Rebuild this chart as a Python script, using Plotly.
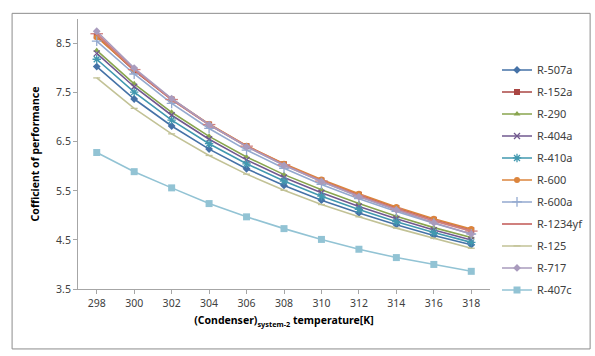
import plotly.graph_objects as go

temps = [298, 300, 302, 304, 306, 308, 310, 312, 314, 316, 318]

r507a = [8.03, 7.37, 6.82, 6.35, 5.95, 5.61, 5.31, 5.05, 4.81, 4.59, 4.40]
r152a = [8.65, 7.95, 7.36, 6.85, 6.41, 6.04, 5.71, 5.42, 5.15, 4.91, 4.70]
r290 = [8.36, 7.68, 7.10, 6.61, 6.19, 5.83, 5.52, 5.24, 4.98, 4.75, 4.55]
r404a = [8.30, 7.62, 7.04, 6.55, 6.13, 5.77, 5.46, 5.18, 4.93, 4.70, 4.50]
r410a = [8.18, 7.51, 6.94, 6.46, 6.05, 5.70, 5.39, 5.12, 4.87, 4.65, 4.45]
r600 = [8.63, 7.97, 7.37, 6.86, 6.42, 6.05, 5.73, 5.44, 5.17, 4.93, 4.72]
r600a = [8.55, 7.88, 7.28, 6.77, 6.33, 5.96, 5.63, 5.34, 5.08, 4.84, 4.62]
r1234yf = [8.70, 7.97, 7.36, 6.85, 6.41, 6.03, 5.70, 5.40, 5.13, 4.89, 4.68]
r125 = [7.80, 7.18, 6.66, 6.22, 5.84, 5.51, 5.22, 4.97, 4.74, 4.53, 4.33]
r717 = [8.75, 8.00, 7.38, 6.85, 6.40, 6.02, 5.69, 5.38, 5.11, 4.85, 4.62]
r407c = [6.28, 5.89, 5.56, 5.24, 4.97, 4.73, 4.51, 4.31, 4.14, 4.00, 3.86]

series = [
    ("R-507a", r507a, "#4572A7", "diamond", 6),
    ("R-152a", r152a, "#AA4643", "square", 6),
    ("R-290", r290, "#89A54E", "triangle-up", 6),
    ("R-404a", r404a, "#71588F", "x-thin", 6),
    ("R-410a", r410a, "#4198AF", "asterisk", 7),
    ("R-600", r600, "#DB843D", "circle", 6),
    ("R-600a", r600a, "#93A9CF", "cross-thin", 7),
    ("R-1234yf", r1234yf, "#D0807E", "line-ew", 9),
    ("R-125", r125, "#C2C296", "line-ew", 5),
    ("R-717", r717, "#A99BBD", "diamond", 6),
    ("R-407c", r407c, "#92C3D4", "square", 7),
]

fig = go.Figure()
for i, (name, vals, col, sym, sz) in enumerate(series):
    thin = sym in ("x-thin", "cross-thin", "asterisk", "line-ew")
    fig.add_trace(go.Scatter(
        x=temps, y=vals, name=name, mode="lines+markers",
        legendgroup=name,
        line=dict(color=col, width=1.6 if name != "R-1234yf" else 2),
        marker=dict(symbol=sym, size=sz, color=col,
                    line=dict(color=col, width=1.3 if thin else 0)),
    ))

font = "Noto Sans"
fig.update_layout(
    width=595, height=356,
    margin=dict(l=78, r=105, t=19, b=67, autoexpand=False),
    paper_bgcolor="white", plot_bgcolor="white",
    font=dict(family=font, size=10, color="#404040"),
    showlegend=True,
    legend=dict(x=1.017, y=0.865, xanchor="left", yanchor="top",
                font=dict(size=11, color="#404040"),
                tracegroupgap=3, traceorder="grouped",
                bgcolor="rgba(0,0,0,0)"),
    xaxis=dict(range=[297, 319], tickvals=temps, ticktext=[str(t) for t in temps],
               showgrid=False, zeroline=False, showline=True, linecolor="#A6A6A6",
               ticks="outside", ticklen=4, tickcolor="#A6A6A6",
               tickfont=dict(size=10.5, color="#404040"),
               title=dict(text="<b>(Condenser)<sub>system-2</sub> temperature[K]</b>",
                          font=dict(size=10.5, color="#000000"), standoff=8)),
    yaxis=dict(range=[3.5, 9.0], tickvals=[3.5, 4.5, 5.5, 6.5, 7.5, 8.5],
               ticktext=["3.5", "4.5", "5.5", "6.5", "7.5", "8.5"],
               showgrid=False, zeroline=False, showline=True, linecolor="#A6A6A6",
               ticks="outside", ticklen=4, tickcolor="#A6A6A6",
               tickfont=dict(size=10.5, color="#404040"),
               title=dict(text="<b>Cofficient of performance</b>",
                          font=dict(size=10.5, color="#000000"), standoff=14)),
)

fig.add_shape(type="rect", xref="paper", yref="paper",
              x0=-0.16, x1=1.243, y0=-0.222, y1=1.021,
              line=dict(color="#8C8C8C", width=1), fillcolor="rgba(0,0,0,0)")

fig.write_html("out.html")
